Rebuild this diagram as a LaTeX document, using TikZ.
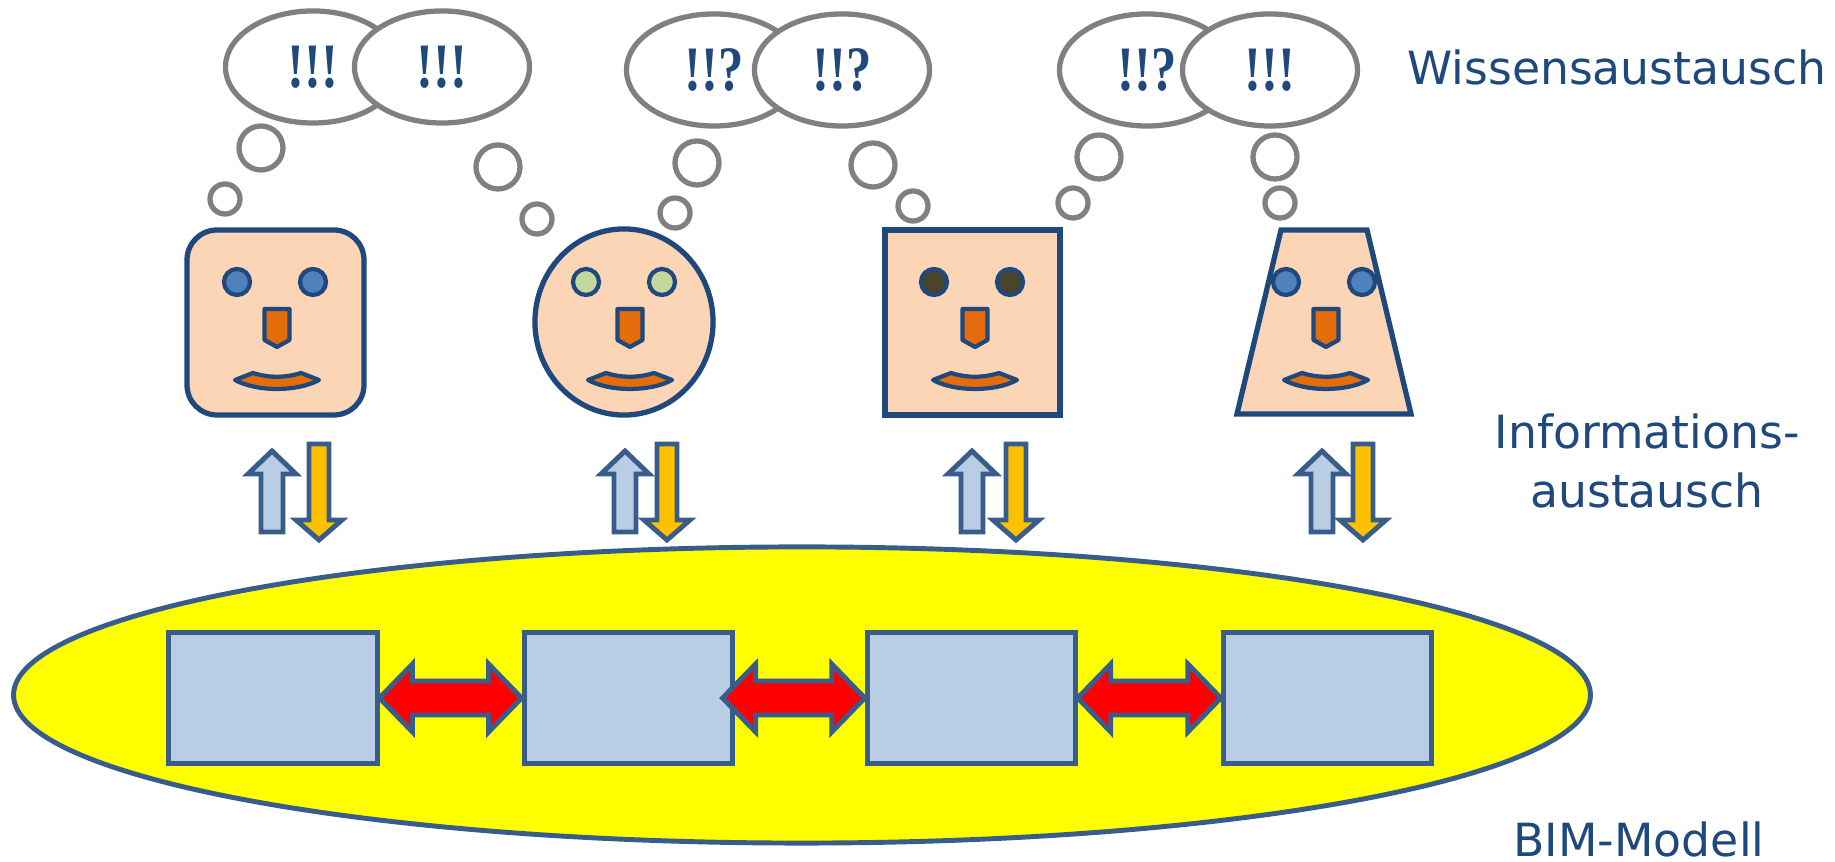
\documentclass[tikz,border=0pt]{standalone}
\usepackage{fontspec}
\setmainfont{DejaVu Sans}
\newfontfamily\thinkfont[FakeStretch=0.8]{Liberation Serif}
\usetikzlibrary{positioning,shapes.geometric,calc}
\definecolor{bimInk}{HTML}{1F497D}
\definecolor{bimEdge}{HTML}{385D8A}
\definecolor{bimSkin}{HTML}{FBD5B5}
\definecolor{bimNose}{HTML}{E46C0A}
\definecolor{bimPale}{HTML}{B9CDE5}
\definecolor{bimGold}{HTML}{FFC000}
\definecolor{bimGrey}{HTML}{808080}
\definecolor{bimYellow}{HTML}{FFFF00}
\definecolor{eyeBlue}{HTML}{4F81BD}
\definecolor{eyeGreen}{HTML}{C3D69B}
\definecolor{eyeDark}{HTML}{4A452A}

\begin{document}
\begin{tikzpicture}[x=0.01cm,y=-0.01cm,font=\fontsize{13}{17}\selectfont,node distance=0pt]
    \tikzset{
      face/.style={draw=bimInk,fill=bimSkin,line width=1.5pt},
      feature/.style={draw=bimInk,fill=bimNose,line width=1.2pt,line join=round},
      bubble/.style={ellipse,draw=bimGrey,fill=white,line width=1.5pt,minimum width=1.75cm,minimum height=1.12cm,inner sep=0pt,text=bimInk,font=\thinkfont\bfseries\fontsize{18}{18}\selectfont},
      puff/.style={draw=bimGrey,fill=white,line width=1.5pt},
      module/.style={draw=bimEdge,fill=bimPale,line width=1.4pt,minimum width=2.08cm,minimum height=1.31cm,inner sep=0pt},
      link/.style={draw=bimEdge,fill=red,line width=1.4pt},
      infoup/.style={draw=bimEdge,fill=bimPale,line width=1.4pt},
      infodown/.style={draw=bimEdge,fill=bimGold,line width=1.4pt},
      caption/.style={text=bimInk,anchor=base,inner sep=0pt}
    }
    \useasboundingbox (0,0) rectangle (1835,862);

    % BIM model with its four parts
    \node[ellipse,draw=bimEdge,fill=bimYellow,line width=1.4pt,minimum width=15.76cm,minimum height=2.96cm] (bim) at (802,695) {};
    \node[module] (m1) at (273,698) {};
    \node[module,right=1.42cm of m1] (m2) {};
    \node[module,right=1.30cm of m2] (m3) {};
    \node[module,right=1.43cm of m3] (m4) {};
    \foreach \a/\b/\s in {m1/m2/0,m2/m3/12,m3/m4/0}
      \draw[link] ($(\a.east)+(-\s,0)$) -- ++(33,-34) -- ++(0,17) -- ($(\b.west)+(-33,-17)$) -- ++(0,-17) -- (\b.west)
        -- ++(-33,34) -- ++(0,-17) -- ($(\a.east)+(33-\s,17)$) -- ++(0,17) -- cycle;

    % information exchange arrows
    \foreach \u/\d in {272/319,625/667,972/1016,1322/1363} {
      \draw[infoup] (\u-11,532) -- (\u-11,474) -- (\u-24,474) -- (\u,451) -- (\u+24,474) -- (\u+11,474) -- (\u+11,532) -- cycle;
      \draw[infodown] (\d-10,444) -- (\d+10,444) -- (\d+10,520) -- (\d+23,520) -- (\d,540) -- (\d-23,520) -- (\d-10,520) -- cycle;
    }

    % heads
    \draw[face,rounded corners=0.3cm] (187,230) rectangle (364,415);
    \draw[face] (624,322) ellipse [x radius=0.89cm,y radius=0.93cm];
    \draw[face] (885,230) rectangle (1060,415);
    \draw[face] (1281,230) -- (1367,230) -- (1411,414) -- (1237,414) -- cycle;
    \foreach \e/\m/\c in {275/277/eyeBlue,624/630/eyeGreen,972/975/eyeDark,1324/1326/eyeBlue} {
      \draw[feature,fill=\c] (\e-38,282) circle [radius=0.13cm];
      \draw[feature,fill=\c] (\e+38,282) circle [radius=0.13cm];
      \draw[feature] (\m-12.5,309) -- (\m+12.5,309) -- (\m+12.5,340) -- (\m,347) -- (\m-12.5,340) -- cycle;
      \draw[feature] (\m-42,380) -- (\m-24,373) .. controls (\m-8,378) and (\m+8,378) .. (\m+24,373) -- (\m+42,380)
        .. controls (\m+20,392) and (\m-20,392) .. cycle;
    }

    % thought bubbles
    \foreach \p/\q/\r in {261/148/22,225/199/15,498/167/22,537/219/15,697/163/22,675/213/15,
                          873/165/22,913/206/15,1099/157/22,1073/203/15,1275/157/22,1280/203/15}
      \draw[puff] (\p,\q) circle [radius=\r*0.01cm];
    \node[bubble] (t1) at (313,67) {!!!};
    \node[bubble] (t2) at (442,67) {!!!};
    \node[bubble] (t3) at (714,70) {!!?};
    \node[bubble] (t4) at (842,70) {!!?};
    \node[bubble] (t5) at (1147,70) {!!?};
    \node[bubble] (t6) at (1270,70) {!!!};

    \node[caption] (know) at (1617,85) {Wissensaustausch};
    \node[caption,align=center] (info) at (1647,508) {Informations-\\austausch};
    \node[caption] (model) at (1639,857) {BIM-Modell};
\end{tikzpicture}
\end{document}
